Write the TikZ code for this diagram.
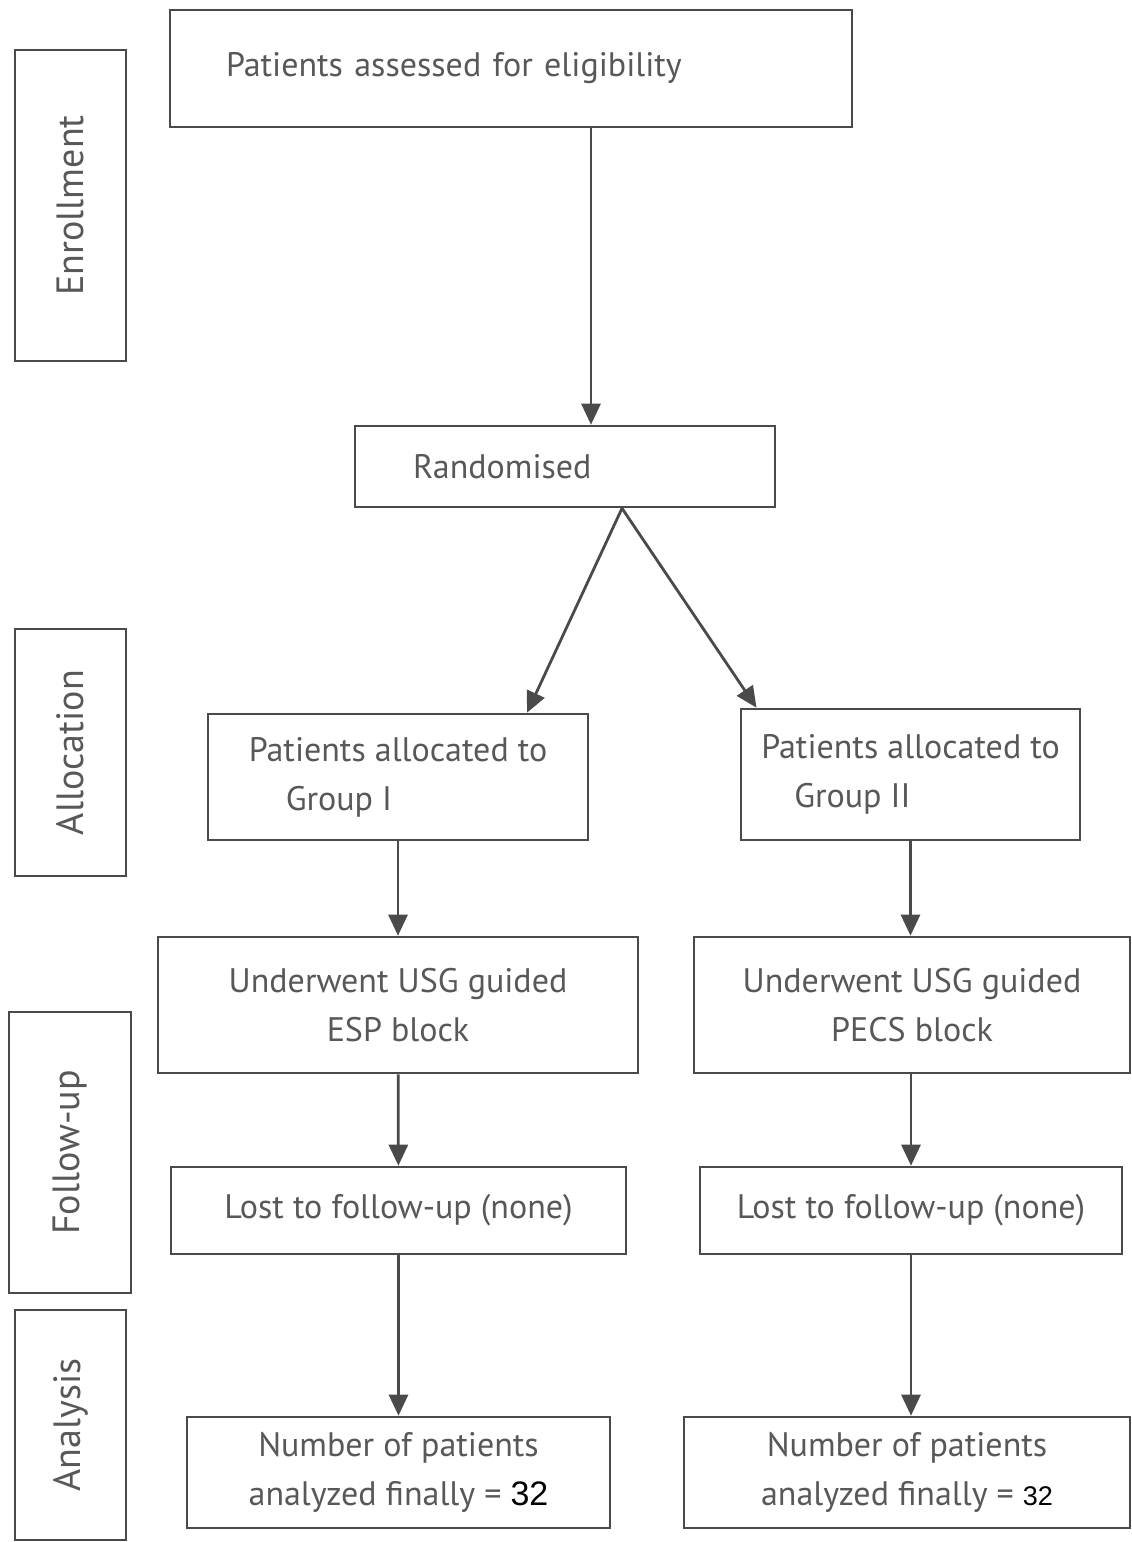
\documentclass[tikz,border=0pt]{standalone}
\usepackage{fontspec}
\setmainfont{PT Sans}
\newfontfamily\numfont{Liberation Sans}
\usetikzlibrary{arrows.meta,positioning}
\definecolor{boxline}{HTML}{4A4A4A}
\definecolor{boxtext}{HTML}{585858}
\newcommand{\flowfont}{\fontsize{34}{49}\selectfont}
\newcommand{\stagefont}{\fontsize{38}{46}\selectfont}
\newcommand{\numbig}[1]{{\numfont\fontsize{34}{49}\selectfont\color{black}#1}}
\newcommand{\numsmall}[1]{{\numfont\fontsize{27}{49}\selectfont\color{black}#1}}
\tikzset{
  flowbox/.style={draw=boxline,fill=white,line width=2.6pt,inner sep=0pt,
                  align=center,font=\flowfont,text=boxtext},
  stagebox/.style={draw=boxline,line width=2.6pt,inner sep=0pt,rotate=90,
                   font=\stagefont,text=boxtext},
  flowarr/.style={-{Triangle[length=21pt,width=19pt]},line width=2.8pt,
                  draw=boxline},
}

\begin{document}
\begin{tikzpicture}[x=1pt,y=-1pt]
    \path[use as bounding box] (0,0) rectangle (1132,1542);
    \node[stagebox,minimum width=311pt,minimum height=111pt] (enroll) at (70.5,205.5) {Enrollment};
    \node[stagebox,minimum width=247pt,minimum height=111pt] (alloc) at (70.5,752.5) {Allocation};
    \node[stagebox,minimum width=281pt,minimum height=122pt] (follow) at (70,1152.5) {Follow-up};
    \node[stagebox,minimum width=230pt,minimum height=111pt] (analys) at (70.5,1425) {Analysis};
    \node[flowbox,align=left,text width=570pt,inner xsep=56pt,minimum height=117pt] (assess) at (511,68.5)
      {Patients assessed for eligibility};
    \node[flowbox,align=left,text width=304pt,inner xsep=58pt,minimum height=81pt] (rand) at (565,466.5)
      {Randomised};
    \node[flowbox,align=left,minimum width=380pt,minimum height=126pt] (grpA) at (398,777)
      {Patients allocated to\\\hspace*{37pt}Group I};
    \node[flowbox,align=left,minimum width=339pt,minimum height=131pt] (grpB) at (910.5,774.5)
      {Patients allocated to\\\hspace*{33pt}Group II};
    \node[flowbox,minimum width=480pt,minimum height=136pt] (esp) at (398,1005)
      {Underwent USG guided\\ESP block};
    \node[flowbox,minimum width=436pt,minimum height=136pt] (pecs) at (912,1005)
      {Underwent USG guided\\PECS block};
    \node[flowbox,minimum width=455pt,minimum height=87pt] (lostA) at (398.5,1210.5)
      {Lost to follow-up (none)};
    \node[flowbox,minimum width=422pt,minimum height=87pt] (lostB) at (911,1210.5)
      {Lost to follow-up (none)};
    \node[flowbox,minimum width=423pt,minimum height=111pt] (numA) at (398.5,1472.5)
      {Number of patients\\analyzed finally = \numbig{32}};
    \node[flowbox,minimum width=446pt,minimum height=111pt] (numB) at (907,1472.5)
      {Number of patients\\analyzed finally = \numsmall{32}};
    \draw[flowarr] ([xshift=80pt]assess.south) -- ([xshift=26pt]rand.north);
    \draw[flowarr] ([xshift=57pt]rand.south) -- ([xshift=129pt]grpA.north);
    \draw[flowarr] ([xshift=57pt]rand.south) -- ([xshift=-154pt]grpB.north);
    \draw[flowarr] (grpA) -- (esp);
    \draw[flowarr] (grpB.south) -- (grpB.south |- pecs.north);
    \draw[flowarr] (esp) -- (lostA);
    \draw[flowarr] (lostB.north |- pecs.south) -- (lostB.north);
    \draw[flowarr] (lostA) -- (numA);
    \draw[flowarr] (lostB.south) -- (lostB.south |- numB.north);
\end{tikzpicture}
\end{document}
